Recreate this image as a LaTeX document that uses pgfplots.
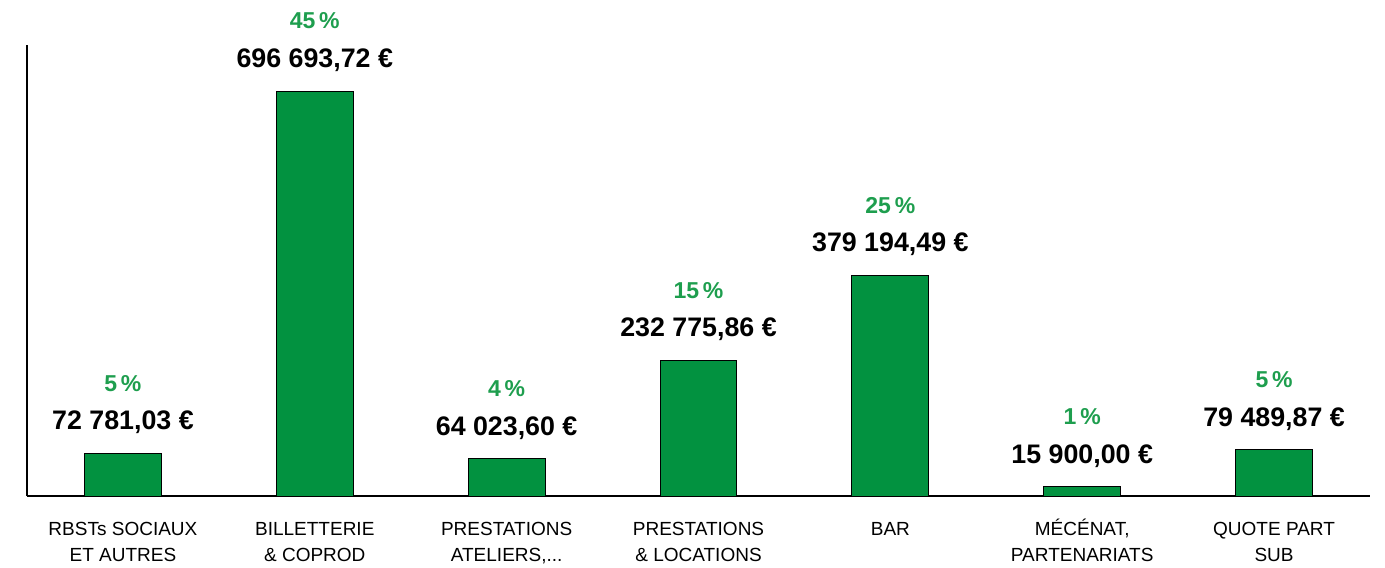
\documentclass[border=0pt]{standalone}
\usepackage{pgfplots}
\pgfplotsset{compat=1.18}
\usepackage{pgfplotstable}
\usepackage{fontspec}
\setmainfont{Liberation Sans}
\definecolor{barg}{RGB}{2,146,64}
\definecolor{pctg}{RGB}{30,158,78}
\newcommand\threedots{...}
\newcommand\ts{\rule{0pt}{9.2pt}}
\pgfplotstableread[col sep=semicolon]{
x;y;val;pct
0;72781.03;72 781,03 €;5\,\%
1;696693.72;696 693,72 €;45\,\%
2;64023.60;64 023,60 €;4\,\%
3;232775.86;232 775,86 €;15\,\%
4;379194.49;379 194,49 €;25\,\%
5;15900.00;15 900,00 €;1\,\%
6;79489.87;79 489,87 €;5\,\%
}\datatable
\begin{document}
\begin{tikzpicture}
\useasboundingbox (0,0) rectangle (692.5pt,283.5pt);
\begin{axis}[
  at={(13.5pt,35.5pt)}, anchor=south west,
  scale only axis, width=671.5pt, height=225.5pt,
  xmin=-0.5, xmax=6.5, ymin=0, ymax=776000,
  axis lines=left,
  axis line style={-, line width=1pt, black},
  ytick=\empty,
  xtick={0,1,2,3,4,5,6},
  xticklabels={{\ts RBSTs SOCIAUX\\ET AUTRES},{\ts BILLETTERIE\\\& COPROD},{\ts PRESTATIONS\\ATELIERS,\threedots},{\ts PRESTATIONS\\\& LOCATIONS},{\ts BAR},{\ts MÉCÉNAT,\\PARTENARIATS},{\ts QUOTE PART\\SUB}},
  xticklabel style={align=center, anchor=north, font=\fontsize{9.5}{13}\selectfont, yshift=-7.2pt},
  major tick length=0pt,
  clip=false,
]
\addplot[ybar, bar width=0.4, bar shift=0pt, fill=barg, draw=black, line width=0.5pt,
  nodes near coords, point meta=explicit symbolic,
  every node near coord/.style={anchor=center, yshift=15.5pt, font=\fontsize{13.4}{15}\selectfont\bfseries, text=black}]
  table[x=x, y=y, meta=val]{\datatable};
\addplot[draw=none, mark=none,
  nodes near coords, point meta=explicit symbolic,
  every node near coord/.style={anchor=center, yshift=35pt, font=\fontsize{11.5}{14}\selectfont\bfseries, text=pctg}]
  table[x=x, y=y, meta=pct]{\datatable};
\end{axis}
\end{tikzpicture}
\end{document}
